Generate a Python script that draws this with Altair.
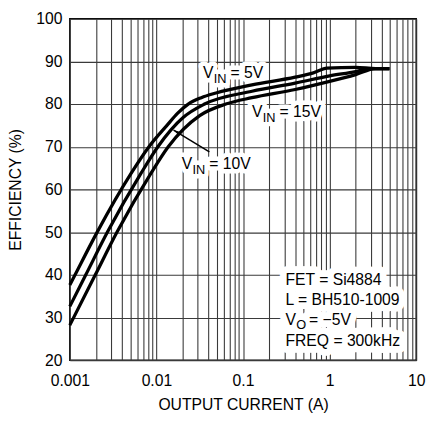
import json
import altair as alt
import pandas as pd

# ---------------- data ----------------
current_5v = [0.001, 0.00115, 0.00207, 0.00508, 0.0082, 0.01324, 0.0175, 0.0233, 0.033, 0.0488, 0.127, 0.4, 0.65, 0.93, 2.0, 3.4, 4.9]
eff_5v = [37.6, 40, 50, 63.7, 70, 75.0, 77.8, 80, 81.5, 82.6, 84.5, 86.3, 87.3, 88.4, 88.6, 88.3, 88.3]

current_10v = [0.001, 0.00153, 0.00272, 0.0066, 0.0104, 0.0205, 0.036, 0.127, 0.4, 1.0, 2.0, 2.9, 4.9]
eff_10v = [32.6, 40, 50, 63.7, 70, 76.9, 80, 83.0, 84.9, 86.6, 87.6, 88.3, 88.3]

current_15v = [0.001, 0.00197, 0.00351, 0.0086, 0.0137, 0.0316, 0.0634, 0.127, 0.4, 1.0, 2.0, 3.4, 4.9]
eff_15v = [28.2, 40, 50, 63.7, 70, 77.3, 80, 81.5, 83.4, 85.3, 86.9, 88.3, 88.3]

x_tick_labels = ["0.001", "0.01", "0.1", "1", "10"]
y_ticks = [20, 30, 40, 50, 60, 70, 80, 90, 100]
x_grid = [m * 10.0 ** k for k in range(-3, 1) for m in range(1, 10)] + [10.0]

# curve labels: V + subscript IN + rest
curve_label_current = [0.0345, 0.127, 0.0196]
curve_label_eff = [86.0, 76.9, 64.7]
curve_label_rest = ["= 5V", "= 15V", "= 10V"]

# arrow for V_IN = 10V (tail, tip)
arrow_current = [0.0409, 0.01577]
arrow_eff = [68.8, 73.9]

# info block
info_current = 0.309
info_lines = ["FET = Si4884", "L = BH510-1009", None, "FREQ = 300kHz"]
info_eff = [37.6, 32.9, 28.2, 23.3]
vo_rest = "= \u22125V"

FONT = "Liberation Sans"

# ---------------- tables ----------------
rows = []
for name, xs, ys in [("5V", current_5v, eff_5v), ("10V", current_10v, eff_10v), ("15V", current_15v, eff_15v)]:
    for a, b in zip(xs, ys):
        rows.append({"series": name, "current": a, "efficiency": b})
curves = pd.DataFrame(rows)

main_rows, sub_rows, rest_rows = [], [], []
for a, b, r in zip(curve_label_current, curve_label_eff, curve_label_rest):
    main_rows.append({"current": a, "efficiency": b, "t": "V"})
    sub_rows.append({"current": a, "efficiency": b, "t": "IN"})
    rest_rows.append({"current": a, "efficiency": b, "t": r})

info_rows = [{"current": info_current, "efficiency": e, "t": t} for t, e in zip(info_lines, info_eff) if t]
vo_idx = info_lines.index(None)
vo_main = pd.DataFrame([{"current": info_current, "efficiency": info_eff[vo_idx], "t": "V"}])
vo_sub = pd.DataFrame([{"current": info_current, "efficiency": info_eff[vo_idx], "t": "O"}])
vo_r = pd.DataFrame([{"current": info_current, "efficiency": info_eff[vo_idx], "t": vo_rest}])

arrow_df = pd.DataFrame({"current": arrow_current, "efficiency": arrow_eff, "order": [0, 1]})
tip_df = pd.DataFrame({"current": [arrow_current[1]], "efficiency": [arrow_eff[1]]})

label_expr = "indexof(" + json.dumps(x_tick_labels) + ", datum.label) >= 0 ? datum.label : ''"

xscale = alt.Scale(type="log", domain=[0.001, 10], nice=False)
yscale = alt.Scale(domain=[20, 100], zero=False, nice=False)

xaxis = alt.Axis(values=x_grid, format="~g", labelExpr=label_expr, title="OUTPUT CURRENT (A)",
                 ticks=False, domain=False, labelFlush=False, labelOverlap=False, labelBound=False,
                 labelPadding=13, titlePadding=8)
yaxis = alt.Axis(values=y_ticks, title="EFFICIENCY (%)", ticks=False, domain=False,
                 labelFlush=False, labelOverlap=False, labelPadding=8, titlePadding=12.5)

X = alt.X("current:Q", scale=xscale, axis=xaxis)
Y = alt.Y("efficiency:Q", scale=yscale, axis=yaxis)

lines = alt.Chart(curves).mark_line(color="black", strokeWidth=3.3, interpolate="monotone").encode(
    x=X, y=Y, detail="series:N"
)

def text_layer(df, size, dx, dy, halo_w):
    kw = dict(font=FONT, fontSize=size, align="left", baseline="alphabetic", dx=dx, dy=dy)
    halo = alt.Chart(df).mark_text(color="white", stroke="white", strokeWidth=halo_w,
                                   strokeJoin="round", **kw).encode(x=X, y=Y, text="t:N")
    txt = alt.Chart(df).mark_text(color="black", **kw).encode(x=X, y=Y, text="t:N")
    return halo, txt

mdf = pd.DataFrame(main_rows)
sdf = pd.DataFrame(sub_rows)
rdf = pd.DataFrame(rest_rows)
idf = pd.DataFrame(info_rows)

halo_layers = []
text_layers = []
for df, size, dx, dy, hw in [(mdf, 16, 0, 0, 9), (sdf, 13, 11, 5, 9), (rdf, 16, 28, 0, 9),
                             (idf, 16, 0, 0, 14), (vo_main, 16, 0, 0, 14), (vo_sub, 13, 11, 4, 14),
                             (vo_r, 16, 24, 0, 14)]:
    h, t = text_layer(df, size, dx, dy, hw)
    halo_layers.append(h)
    text_layers.append(t)

arrow_line = alt.Chart(arrow_df).mark_line(color="black", strokeWidth=1.5).encode(
    x=X, y=Y, order="order:Q")
arrow_tip = alt.Chart(tip_df).mark_point(shape="M0,0L-0.55,2L0.55,2Z", size=50, filled=True,
                                         color="black", opacity=1, angle=300).encode(x=X, y=Y)

chart = alt.layer(*halo_layers, lines, arrow_line, arrow_tip, *text_layers).properties(
    width=353, height=348,
    autosize=alt.AutoSizeParams(type="none"),
    padding={"left": 63, "top": 7, "right": 11, "bottom": 52},
).configure_view(stroke="black", strokeWidth=1.5).configure_axis(
    grid=True, gridColor="#3a3a3a", gridWidth=1.1, gridOpacity=1,
    labelFont=FONT, labelFontSize=16, labelColor="black",
    titleFont=FONT, titleFontSize=16, titleFontWeight="normal", titleColor="black",
)

chart.save("out.html", embed_options={"renderer": "svg", "actions": False})
